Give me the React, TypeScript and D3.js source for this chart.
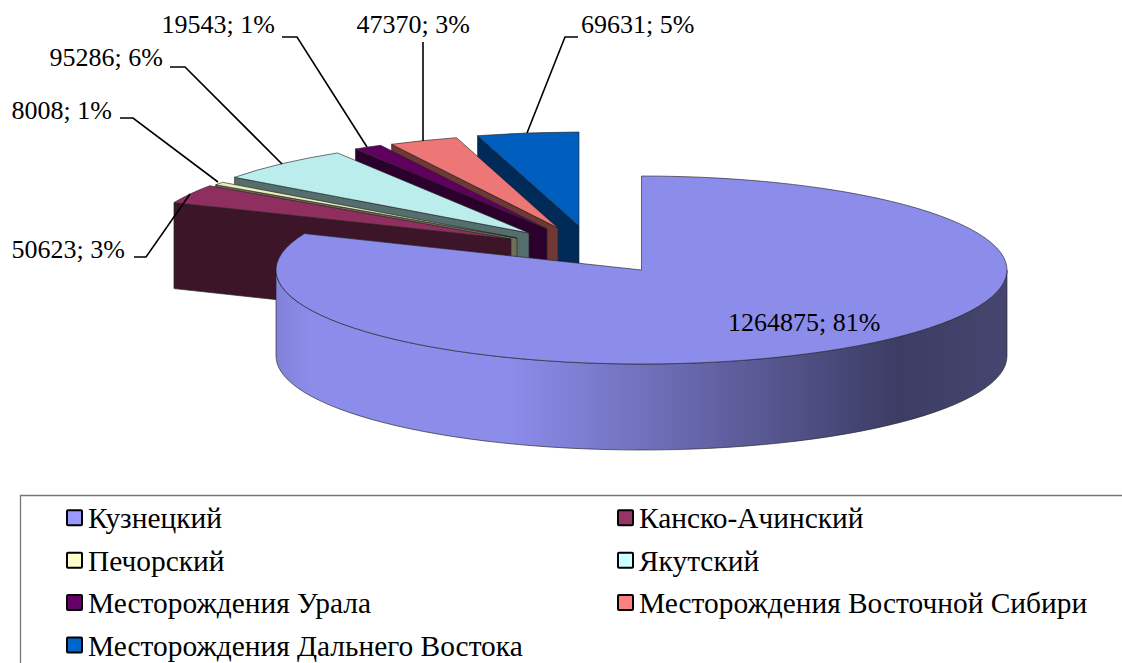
import React from "react";
import * as d3 from "d3";

const categories = ["Кузнецкий", "Канско-Ачинский", "Печорский", "Якутский", "Месторождения Урала", "Месторождения Восточной Сибири", "Месторождения Дальнего Востока"];
const values = [1264875, 50623, 8008, 95286, 19543, 47370, 69631];
const percents = [81, 3, 1, 6, 1, 3, 5];
const legendColors = ["#9999FF", "#993366", "#FFFFCC", "#CCFFFF", "#660066", "#FF8080", "#0066CC"];
const topColors = ["#8C8CEB", "#8F2F5F", "#EDEDBE", "#BBEDED", "#5F005F", "#ED7777", "#005FBE"];
const wallColors = ["#8C8CEB", "#3D1528", "#6F6F58", "#546D6D", "#2C002C", "#703835", "#002B58"];
const apexes: [number, number][] = [[641.5, 270], [511, 239], [517, 238], [529, 233], [547, 229], [558, 228], [579, 226]];
const labelPos: [number, number, string][] = [[728, 331, "start"], [125, 258, "end"], [112, 119, "end"], [163, 66, "end"], [275, 33, "end"], [470, 33, "end"], [581, 33, "start"]];
const leaders: [number, number][][] = [[], [[134, 257], [146, 257], [190, 194]], [[120, 118], [133, 118], [218, 182]], [[170, 67], [185, 67], [282, 164]], [[282, 37], [297, 37], [367, 147]], [[423, 42], [423, 141]], [[578, 37], [565, 37], [527, 133]]];
const RX = 365.5, RY = 94, DEPTH = 86;
const W = 1122, H = 663;
const font = "'Liberation Serif', serif";

export default function App() {
  const pie = d3.pie<number>().sort(null).startAngle(0).endAngle(2 * Math.PI);
  const arcs = pie(values);
  const arcGen = d3.arc<any>().innerRadius(0).outerRadius(RX);
  const scaleY = RY / RX;
  const project = (i: number, ang: number): [number, number] => [apexes[i][0] + RX * Math.sin(ang), apexes[i][1] - RY * Math.cos(ang)];

  const cutWall = (i: number) => {
    const [x0, y0] = project(i, arcs[i].startAngle);
    const [ax, ay] = apexes[i];
    const p = d3.path();
    p.moveTo(x0, y0); p.lineTo(ax, ay); p.lineTo(ax, ay + DEPTH); p.lineTo(x0, y0 + DEPTH); p.closePath();
    return p.toString();
  };
  const [mx, my] = apexes[0];
  const mainWall = `M${mx - RX},${my} A${RX},${RY} 0 0 0 ${mx + RX},${my} L${mx + RX},${my + DEPTH} A${RX},${RY} 0 0 1 ${mx - RX},${my + DEPTH} Z`;
  const order = d3.range(values.length - 1, 0, -1);
  const edge = { stroke: "#222", strokeWidth: 0.8, strokeOpacity: 0.8 };

  const rowY = d3.scaleLinear().domain([0, 3]).range([517.7, 645]);
  const colX = d3.scaleOrdinal<number, number>().domain([0, 1]).range([66, 617]);

  return (
    <svg width={W} height={H} style={{ position: "absolute", left: 0, top: 0, background: "#fff" }} fontFamily={font}>
      <defs>
        <linearGradient id="wallGrad" gradientUnits="userSpaceOnUse" x1={mx - RX} x2={mx + RX} y1="0" y2="0">
          <stop offset="0" stopColor="#8282DA" />
          <stop offset="0.05" stopColor="#8C8CEB" />
          <stop offset="0.32" stopColor="#8C8CEB" />
          <stop offset="0.85" stopColor="#3C3C64" />
          <stop offset="1" stopColor="#45456F" />
        </linearGradient>
      </defs>
      {order.map((i) => (
        <g key={i}>
          <path d={cutWall(i)} fill={wallColors[i]} {...edge} />
          <path d={arcGen(arcs[i]) as string} fill={topColors[i]} transform={`translate(${apexes[i][0]},${apexes[i][1]}) scale(1,${scaleY})`} vectorEffect="non-scaling-stroke" {...edge} />
        </g>
      ))}
      <path d={mainWall} fill="url(#wallGrad)" {...edge} />
      <path d={arcGen(arcs[0]) as string} fill={topColors[0]} transform={`translate(${mx},${my}) scale(1,${scaleY})`} vectorEffect="non-scaling-stroke" {...edge} />

      {leaders.map((pts, i) => pts.length > 0 && (
        <path key={i} d={d3.line()(pts) as string} fill="none" stroke="#000" strokeWidth={1.6} />
      ))}
      {values.map((v, i) => (
        <text key={i} x={labelPos[i][0]} y={labelPos[i][1]} textAnchor={labelPos[i][2] as any} fontSize={26} fill="#000">{`${v}; ${percents[i]}%`}</text>
      ))}

      <path d={`M1122,495.5 L20.5,495.5 L20.5,663`} fill="none" stroke="#777" strokeWidth={1.3} />
      {categories.map((c, i) => {
        const row = Math.floor(i / 2), col = i % 2;
        const y = rowY(row), x = colX(col);
        return (
          <g key={c}>
            <rect x={x + 1} y={y - 7.5} width={15} height={15} fill={legendColors[i]} stroke="#000" strokeWidth={2} rx={1} />
            <text x={x + 22} y={y + 10.5} fontSize={29.4} fill="#000">{c}</text>
          </g>
        );
      })}
    </svg>
  );
}
